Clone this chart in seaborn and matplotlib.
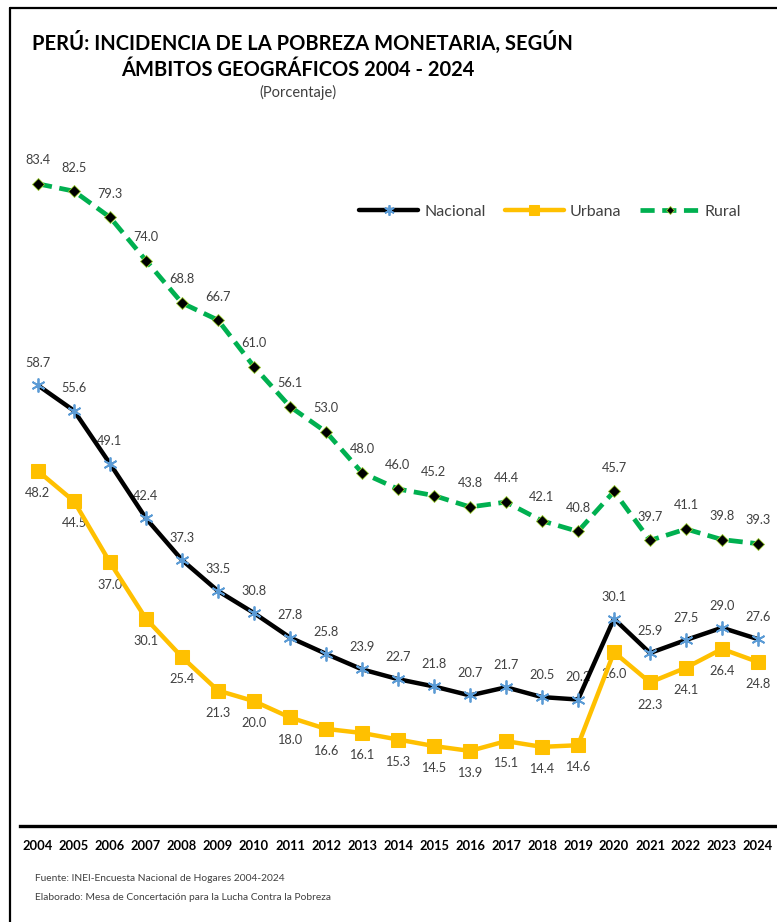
import numpy as np
import pandas as pd
import matplotlib
matplotlib.use("Agg")
import matplotlib.pyplot as plt
from matplotlib.lines import Line2D
import seaborn as sns

# ---- datos ----
YEARS = list(range(2004, 2025))
NACIONAL = [58.7, 55.6, 49.1, 42.4, 37.3, 33.5, 30.8, 27.8, 25.8, 23.9, 22.7,
            21.8, 20.7, 21.7, 20.5, 20.2, 30.1, 25.9, 27.5, 29.0, 27.6]
URBANA = [48.2, 44.5, 37.0, 30.1, 25.4, 21.3, 20.0, 18.0, 16.6, 16.1, 15.3,
          14.5, 13.9, 15.1, 14.4, 14.6, 26.0, 22.3, 24.1, 26.4, 24.8]
RURAL = [83.4, 82.5, 79.3, 74.0, 68.8, 66.7, 61.0, 56.1, 53.0, 48.0, 46.0,
         45.2, 43.8, 44.4, 42.1, 40.8, 45.7, 39.7, 41.1, 39.8, 39.3]

TITLE_1 = "PERÚ: INCIDENCIA DE LA POBREZA MONETARIA, SEGÚN"
TITLE_2 = "ÁMBITOS GEOGRÁFICOS 2004 - 2024"
SUBTITLE = "(Porcentaje)"
FUENTE = "Fuente: INEI-Encuesta Nacional de Hogares 2004-2024"
ELABORADO = "Elaborado: Mesa de Concertación para la Lucha Contra la Pobreza"

sns.set_theme(style="white")
plt.rcParams['font.family'] = ['Lato', 'DejaVu Sans']

df = pd.DataFrame({"anio": YEARS, "Nacional": NACIONAL,
                   "Urbana": URBANA, "Rural": RURAL})

fig = plt.figure(figsize=(7.77, 9.22), dpi=100)
ax = fig.add_axes([20 / 777, 96 / 922, 756 / 777, 696 / 922])

LABEL_COLOR = "#404040"

# Rural
sns.lineplot(data=df, x="anio", y="Rural", ax=ax, color="#00B050", lw=3.4,
             linestyle=(0, (3, 1.6)), marker="D", markersize=6,
             markerfacecolor="black", markeredgecolor="#9ACD32",
             markeredgewidth=0.6, label="Rural", zorder=3)
# Nacional
sns.lineplot(data=df, x="anio", y="Nacional", ax=ax, color="black", lw=3.2,
             marker=(6, 2, 0), markersize=10, markeredgecolor="#5B9BD5",
             markeredgewidth=1.3, label="Nacional", zorder=4)
# Urbana
sns.lineplot(data=df, x="anio", y="Urbana", ax=ax, color="#FFC000", lw=3.2,
             marker="s", markersize=10, markeredgecolor="#FFC000",
             label="Urbana", zorder=5)

# etiquetas de datos
for x, v in zip(YEARS, RURAL):
    ax.annotate(f"{v:.1f}", (x, v), xytext=(0, 17), textcoords="offset points",
                ha="center", va="center", fontsize=9.2, color=LABEL_COLOR, zorder=1)
for x, v in zip(YEARS, NACIONAL):
    ax.annotate(f"{v:.1f}", (x, v), xytext=(0, 16), textcoords="offset points",
                ha="center", va="center", fontsize=9.2, color=LABEL_COLOR, zorder=1)
for x, v in zip(YEARS, URBANA):
    ax.annotate(f"{v:.1f}", (x, v), xytext=(0, -16), textcoords="offset points",
                ha="center", va="center", fontsize=9.2, color=LABEL_COLOR, zorder=1)

ax.set_xlim(2003.5, 2024.5)
ax.set_ylim(4.7, 90)
ax.set_xticks(YEARS)
ax.set_xticklabels([str(y) for y in YEARS], fontsize=9.3, fontweight="bold")
ax.tick_params(axis="x", length=0, pad=10, colors="black")
ax.set_yticks([])
ax.set_xlabel("")
ax.set_ylabel("")
for s in ["top", "right", "left"]:
    ax.spines[s].set_visible(False)
ax.spines["bottom"].set_color("black")
ax.spines["bottom"].set_linewidth(2.4)

# leyenda
handles, labels = ax.get_legend_handles_labels()
order = [labels.index(n) for n in ["Nacional", "Urbana", "Rural"]]
leg = ax.legend([handles[i] for i in order], [labels[i] for i in order],
                loc="center left", bbox_to_anchor=(345 / 777, 1 - 212 / 922),
                bbox_transform=fig.transFigure, ncol=3, frameon=False,
                handlelength=3.7, columnspacing=1.2, handletextpad=0.35,
                fontsize=11.5, labelcolor="#404040", markerscale=0.75)

# titulos
fig.text(302 / 777, 1 - 42 / 922, TITLE_1, ha="center", va="center",
         fontsize=14.5, fontweight="bold", color="black")
fig.text(298 / 777, 1 - 70 / 922, TITLE_2, ha="center", va="center",
         fontsize=14.5, fontweight="bold", color="black")
fig.text(298 / 777, 1 - 92 / 922, SUBTITLE, ha="center", va="center",
         fontsize=10.5, color="#404040")

# notas
fig.text(35 / 777, 1 - 878 / 922, FUENTE, ha="left", va="center",
         fontsize=7.4, color="#404040")
fig.text(35 / 777, 1 - 897 / 922, ELABORADO, ha="left", va="center",
         fontsize=7.4, color="#404040")

# marco
fig.add_artist(Line2D([10 / 777, 10 / 777], [0, 1 - 8 / 922], color="black",
                      lw=1.6, transform=fig.transFigure))
fig.add_artist(Line2D([10 / 777, 1], [1 - 8 / 922, 1 - 8 / 922], color="black",
                      lw=1.6, transform=fig.transFigure))

fig.savefig("out.png", dpi=100)
